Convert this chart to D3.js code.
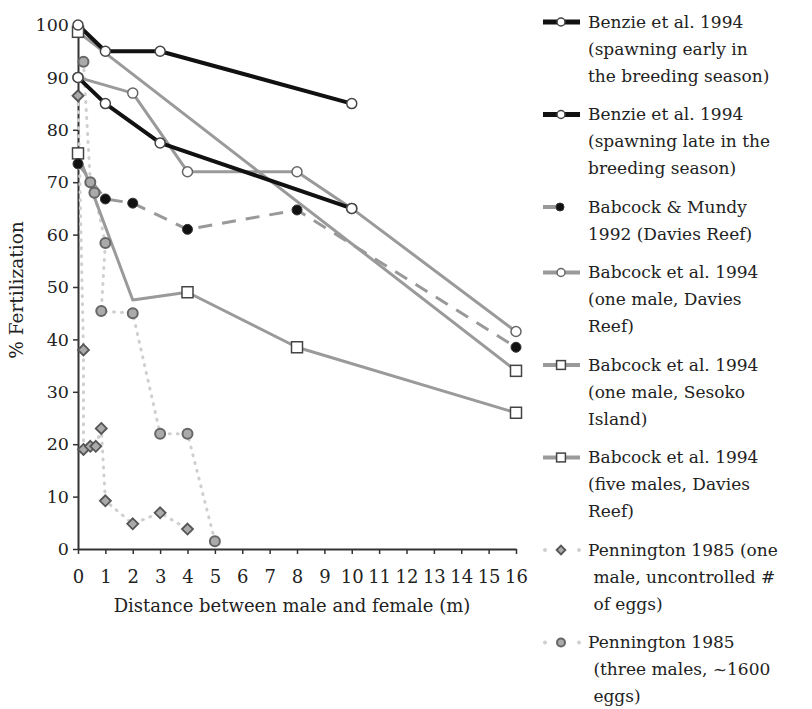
<!DOCTYPE html>
<html>
<head>
<meta charset="utf-8">
<script src="https://cdn.jsdelivr.net/npm/d3@7"></script>
<style>
  body { margin: 0; background: #fff; }
  text { font-family: "DejaVu Serif", serif; fill: #222; }
</style>
</head>
<body>
<div id="chart"></div>
<script>

// data (x = metres, y = % fertilization)
var benzieEarlyX = [0, 1, 3, 10];
var benzieEarlyY = [100, 95, 95, 85];

var benzieLateX = [0, 1, 3, 10];
var benzieLateY = [90, 85, 77.5, 65];

var mundyX = [0, 1, 2, 4, 8, 16];
var mundyY = [73.5, 66.8, 66, 61, 64.7, 38.5];

var oneMaleDaviesX = [0, 2, 4, 8, 10, 16];
var oneMaleDaviesY = [90, 87, 72, 72, 65, 41.5];

var oneMaleSesokoX = [0, 16];
var oneMaleSesokoY = [98.7, 34];

var fiveMalesX = [0, 2, 4, 8, 16];
var fiveMalesY = [75.5, 47.5, 49, 38.5, 26];
var fiveMalesMarked = [true, false, true, true, true];

var penOneX = [0, 0.2, 0.2, 0.45, 0.65, 0.85, 1, 2, 3, 4];
var penOneY = [86.5, 38, 19, 19.6, 19.6, 23, 9.2, 4.8, 6.9, 3.8];

var penThreeX = [0.2, 0.45, 0.6, 1, 0.85, 2, 3, 4, 5];
var penThreeY = [93, 70, 68, 58.4, 45.4, 45, 22, 22, 1.5];

var xTicks = d3.range(0, 17, 1);
var yTicks = d3.range(0, 101, 10);

var legendLabels = [
  ["Benzie et al. 1994", "(spawning early in", "the breeding season)"],
  ["Benzie et al. 1994", "(spawning late in the", "breeding season)"],
  ["Babcock & Mundy", "1992 (Davies Reef)"],
  ["Babcock et al. 1994", "(one male, Davies", "Reef)"],
  ["Babcock et al. 1994", "(one male, Sesoko", "Island)"],
  ["Babcock et al. 1994", "(five males, Davies", "Reef)"],
  ["Pennington 1985 (one", " male, uncontrolled #", " of eggs)"],
  ["Pennington 1985", " (three males, ~1600", " eggs)"]
];

function zip(xs, ys) {
  return xs.map(function(d, i) { return [d, ys[i]]; });
}

// one entry per legend row, same order
var series = [
  {pts: zip(benzieEarlyX, benzieEarlyY), color: "#111", width: 4, dash: null, marker: "circle", mfill: "#fff", mstroke: "#444"},
  {pts: zip(benzieLateX, benzieLateY), color: "#111", width: 4, dash: null, marker: "circle", mfill: "#fff", mstroke: "#444"},
  {pts: zip(mundyX, mundyY), color: "#999", width: 3, dash: "14,10", marker: "dot", mfill: "#111", mstroke: "#333"},
  {pts: zip(oneMaleDaviesX, oneMaleDaviesY), color: "#9a9a9a", width: 3, dash: null, marker: "circle", mfill: "#fff", mstroke: "#666"},
  {pts: zip(oneMaleSesokoX, oneMaleSesokoY), color: "#9a9a9a", width: 3, dash: null, marker: "square", mfill: "#fff", mstroke: "#444"},
  {pts: zip(fiveMalesX, fiveMalesY), color: "#9a9a9a", width: 3, dash: null, marker: "square", mfill: "#fff", mstroke: "#444", marked: fiveMalesMarked},
  {pts: zip(penOneX, penOneY), color: "#cfcfcf", width: 3, dash: "1,7", marker: "diamond", mfill: "#aaa", mstroke: "#555"},
  {pts: zip(penThreeX, penThreeY), color: "#cfcfcf", width: 3, dash: "1,7", marker: "pcircle", mfill: "#aaa", mstroke: "#666"}
];

var W = 812, H = 709;

var svg = d3.select("#chart").append("svg")
    .attr("width", W)
    .attr("height", H);

var x = d3.scaleLinear().domain([0, 16]).range([78, 516]);
var y = d3.scaleLinear().domain([0, 100]).range([549, 25]);

// axes
var xAxis = svg.append("g")
    .attr("transform", "translate(0," + y(0) + ")")
    .call(d3.axisBottom(x).tickValues(xTicks).tickSize(5).tickSizeOuter(0).tickPadding(16));
var yAxis = svg.append("g")
    .attr("transform", "translate(" + x(0) + ",0)")
    .call(d3.axisLeft(y).tickValues(yTicks).tickSize(5).tickSizeOuter(0).tickPadding(4));

[xAxis, yAxis].forEach(function(a) {
  a.selectAll("text").attr("font-family", "DejaVu Serif").attr("font-size", 17.5).attr("fill", "#222");
  a.selectAll("line").attr("stroke", "#333").attr("stroke-width", 1.5);
  a.select(".domain").attr("stroke", "#333").attr("stroke-width", 2);
});
xAxis.selectAll("text").attr("font-size", 18);

svg.append("text")
    .attr("x", 292)
    .attr("y", 612)
    .attr("text-anchor", "middle")
    .attr("font-size", 18)
    .text("Distance between male and female (m)");

svg.append("text")
    .attr("transform", "translate(23,290) rotate(-90)")
    .attr("text-anchor", "middle")
    .attr("font-size", 18.5)
    .text("% Fertilization");

// lines (dotted first, black on top)
var line = d3.line().x(function(d) { return x(d[0]); }).y(function(d) { return y(d[1]); });
var drawOrder = [6, 7, 3, 4, 5, 2, 0, 1];

drawOrder.forEach(function(i) {
  var s = series[i];
  svg.append("path")
      .datum(s.pts)
      .attr("d", line)
      .attr("fill", "none")
      .attr("stroke", s.color)
      .attr("stroke-width", s.width)
      .attr("stroke-linecap", s.dash == "1,7" ? "round" : "butt")
      .attr("stroke-linejoin", "round")
      .attr("stroke-dasharray", s.dash);
});

function drawMarker(g, type, cx, cy, fill, stroke, small) {
  var k = small ? 0.8 : 1;
  if (type == "circle") {
    g.append("circle").attr("cx", cx).attr("cy", cy).attr("r", 5 * k)
        .attr("fill", fill).attr("stroke", stroke).attr("stroke-width", 1.5);
  } else if (type == "dot") {
    g.append("circle").attr("cx", cx).attr("cy", cy).attr("r", 5 * k)
        .attr("fill", fill).attr("stroke", stroke).attr("stroke-width", 1);
  } else if (type == "pcircle") {
    g.append("circle").attr("cx", cx).attr("cy", cy).attr("r", 5 * k)
        .attr("fill", fill).attr("stroke", stroke).attr("stroke-width", 2);
  } else if (type == "square") {
    var h = 5.5 * k;
    g.append("rect").attr("x", cx - h).attr("y", cy - h).attr("width", 2 * h).attr("height", 2 * h)
        .attr("fill", fill).attr("stroke", stroke).attr("stroke-width", 1.5);
  } else if (type == "diamond") {
    var r = 5.5 * k;
    g.append("path")
        .attr("d", "M" + cx + "," + (cy - r) + "L" + (cx + r) + "," + cy + "L" + cx + "," + (cy + r) + "L" + (cx - r) + "," + cy + "Z")
        .attr("fill", fill).attr("stroke", stroke).attr("stroke-width", 1.8);
  }
}

var markers = svg.append("g");
drawOrder.forEach(function(i) {
  var s = series[i];
  s.pts.forEach(function(p, j) {
    if (s.marked && !s.marked[j]) return;
    drawMarker(markers, s.marker, x(p[0]), y(p[1]), s.mfill, s.mstroke, false);
  });
});

// legend
var legend = svg.append("g");
var ly = 22;
series.forEach(function(s, i) {
  var g = legend.append("g");
  if (s.marker == "dot") {
    g.append("line").attr("x1", 543).attr("x2", 558).attr("y1", ly).attr("y2", ly)
        .attr("stroke", s.color).attr("stroke-width", 4);
    drawMarker(g, s.marker, 560, ly, s.mfill, s.mstroke, true);
  } else if (s.dash == "1,7") {
    [545, 579].forEach(function(dx) {
      g.append("circle").attr("cx", dx).attr("cy", ly).attr("r", 2).attr("fill", s.color);
    });
    drawMarker(g, s.marker, 561, ly, s.mfill, s.mstroke, true);
  } else {
    g.append("line").attr("x1", 543).attr("x2", 580).attr("y1", ly).attr("y2", ly)
        .attr("stroke", s.color).attr("stroke-width", s.width + 1);
    drawMarker(g, s.marker, 561, ly, s.mfill, s.mstroke, true);
  }
  legendLabels[i].forEach(function(t, k) {
    g.append("text")
        .attr("x", 588)
        .attr("y", ly + k * 27)
        .attr("dy", "0.35em")
        .attr("font-size", 17)
        .attr("xml:space", "preserve")
        .style("white-space", "pre")
        .text(t);
  });
  ly += legendLabels[i].length * 27 + 11.5;
});

</script>
</body>
</html>
